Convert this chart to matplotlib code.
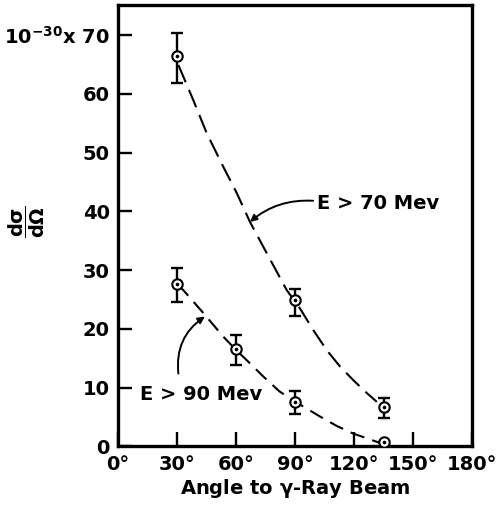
import numpy as np
import matplotlib
matplotlib.use('Agg')
from matplotlib import pyplot as plt

# measured points, E > 70 Mev
ang70 = [30, 90, 135]
val70 = [66.5, 24.9, 6.8]
lo70 = [61.9, 22.2, 4.8]
hi70 = [70.4, 26.8, 8.3]

# measured points, E > 90 Mev (last one has no error bar)
ang90 = [30, 60, 90, 135]
val90 = [27.6, 16.5, 7.6, 0.8]
lo90 = [24.5, 13.9, 5.5, 0.8]
hi90 = [30.3, 19.0, 9.5, 0.8]

# hand drawn dashed curves
curve70_x = [30.7, 38.3, 45.1, 53.5, 60.4, 67.1, 75.6, 85.8, 92.5, 99.3,
             106.1, 112.9, 119.6, 126.5, 131.6]
curve70_y = [64.9, 58.9, 53.3, 47.6, 43.1, 38.2, 32.9, 26.6, 23.5, 19.8,
             16.4, 13.6, 11.3, 9.1, 7.6]
curve90_x = [30.5, 33.2, 43.4, 53.5, 59.8, 65.4, 73.9, 82.0, 90.0, 94.2,
             102.7, 111.2, 119.6, 126.5, 132.4]
curve90_y = [27.4, 26.6, 22.7, 18.7, 16.5, 14.7, 11.9, 9.4, 7.6, 6.8,
             5.1, 3.5, 2.2, 1.4, 0.7]

xticks = [0, 30, 60, 90, 120, 150, 180]
xtick_labels = ['0°', '30°', '60°', '90°', '120°', '150°', '180°']
yticks = [0, 10, 20, 30, 40, 50, 60, 70]
ytick_labels = ['0', '10', '20', '30', '40', '50', '60', r'10$^{-30}$x 70']

plt.rcParams['font.family'] = ['DejaVu Sans']
plt.rcParams['font.weight'] = 'bold'
plt.rcParams['axes.labelweight'] = 'bold'
plt.rcParams['mathtext.fontset'] = 'dejavusans'
plt.rcParams['mathtext.default'] = 'bf'

fig = plt.figure(figsize=(5, 5.16), dpi=100)
ax = fig.add_axes([0.236, 0.1347, 0.708, 0.8556])

ax.plot(curve70_x, curve70_y, color='black', lw=1.5, dashes=(9, 4))
ax.plot(curve90_x, curve90_y, color='black', lw=1.5, dashes=(7, 4))

def draw_points(ang, val, lo, hi):
    val = np.array(val)
    err = [val - np.array(lo), np.array(hi) - val]
    ax.errorbar(ang, val, yerr=err, fmt='none', ecolor='black',
                elinewidth=1.7, capsize=4, capthick=1.7)
    ax.plot(ang, val, 'o', ms=7.5, mfc='white', mec='black', mew=1.5, zorder=4)
    ax.plot(ang, val, 'o', ms=1.6, color='black', zorder=5)

draw_points(ang70, val70, lo70, hi70)
draw_points(ang90[:3], val90[:3], lo90[:3], hi90[:3])
draw_points(ang90[3:], val90[3:], lo90[3:], hi90[3:])

ax.annotate('', xy=(67.1, 38.2), xytext=(99.2, 41.8),
            arrowprops=dict(arrowstyle='-|>', color='black', lw=1.4,
                            connectionstyle='arc3,rad=0.2',
                            shrinkA=0, shrinkB=0, mutation_scale=10))
ax.text(101.2, 41.4, 'E > 70 Mev', fontsize=14, va='center', ha='left')

ax.annotate('', xy=(44.2, 22.1), xytext=(30.7, 12.4),
            arrowprops=dict(arrowstyle='-|>', color='black', lw=1.4,
                            connectionstyle='arc3,rad=-0.3',
                            shrinkA=0, shrinkB=0, mutation_scale=10))
ax.text(11.2, 8.8, 'E > 90 Mev', fontsize=14, va='center', ha='left')

ax.set_xlim(0, 180)
ax.set_ylim(0, 75.1)
ax.set_xticks(xticks)
ax.set_xticklabels(xtick_labels, fontsize=14)
ax.set_yticks(yticks)
ax.set_yticklabels(ytick_labels, fontsize=14)
ax.tick_params(direction='in', length=10, width=1.7, pad=6)

for s in ax.spines.values():
    s.set_linewidth(2.4)

ax.set_xlabel(r'Angle to $\gamma$-Ray Beam', fontsize=14, labelpad=2)
ax.set_ylabel(r'$\dfrac{\mathrm{d}\sigma}{\mathrm{d}\Omega}$', fontsize=14,
              rotation=90)
ax.yaxis.set_label_coords(-0.2, 0.508)

fig.savefig('out.png', dpi=100)
